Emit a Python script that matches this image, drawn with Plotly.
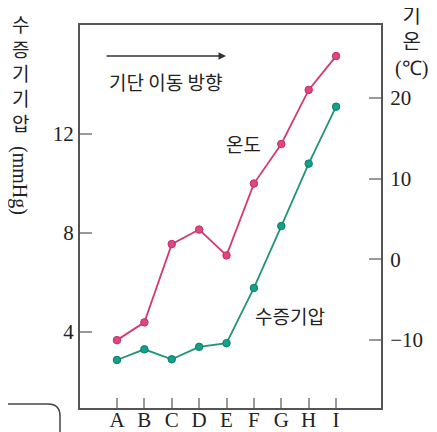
import plotly.graph_objects as go

categories = ["A", "B", "C", "D", "E", "F", "G", "H", "I"]
temperature = [-10.0, -7.8, 1.9, 3.7, 0.5, 9.4, 14.3, 21.0, 25.2]
vapor_pressure = [2.87, 3.3, 2.9, 3.4, 3.55, 5.78, 8.28, 10.8, 13.1]
left_ticks = [4, 8, 12]
right_ticks = [-10, 0, 10, 20]
right_ticktext = ["\u221210", "0", "10", "20"]

xpos = list(range(len(categories)))
PINK = "#d23a74"
PINK_M = "#e2457f"
GREEN = "#1f9479"
GREEN_M = "#14a08a"
AX = "#555555"
SERIF = "Liberation Serif"
KR = "Noto Sans CJK KR"

# page body adds an 8px offset; plot box in screen pixels
OFF = 8
PL, PR, PT, PB = 80, 381, 25, 408
W, H = 437 - OFF, 432 - OFF

def px(x):
    return (x - PL) / (PR - PL)

def py(y):
    return (PB - y) / (PB - PT)

fig = go.Figure()
fig.add_trace(go.Scatter(x=xpos, y=vapor_pressure, mode="lines+markers",
                         line=dict(color=GREEN, width=1.8),
                         marker=dict(color=GREEN_M, size=7.5, line=dict(color="#0e7d68", width=1)),
                         yaxis="y", showlegend=False))
fig.add_trace(go.Scatter(x=xpos, y=temperature, mode="lines+markers",
                         line=dict(color=PINK, width=1.8),
                         marker=dict(color=PINK_M, size=7.5, line=dict(color="#c0306a", width=1)),
                         yaxis="y2", showlegend=False))

fig.update_layout(
    width=W, height=H,
    margin=dict(l=PL - OFF, r=W - (PR - OFF), t=PT - OFF, b=H - (PB - OFF), autoexpand=False),
    paper_bgcolor="white", plot_bgcolor="white",
    xaxis=dict(range=[-1.35, 9.64], tickvals=xpos, ticktext=categories,
               showgrid=False, zeroline=False, showline=True, linecolor=AX, linewidth=2,
               mirror=True, ticks="inside", ticklen=10, tickcolor="#999", tickwidth=1.5,
               ticklabelstandoff=-8,
               tickfont=dict(family=SERIF, size=21, color="#222"), automargin=False),
    yaxis=dict(range=[0.93, 16.40], tickvals=left_ticks, showgrid=False, zeroline=False,
               showline=True, linecolor=AX, linewidth=2, ticks="inside", ticklen=12,
               tickcolor="#999", tickwidth=1.5, automargin=False,
               tickfont=dict(family=SERIF, size=21, color="#222")),
    yaxis2=dict(range=[-18.41, 29.05], overlaying="y", side="right", tickvals=right_ticks,
                ticktext=right_ticktext, showgrid=False, zeroline=False, showline=True,
                linecolor=AX, linewidth=2, ticks="inside", ticklen=12, tickcolor="#999",
                tickwidth=1.5, automargin=False, ticklabelstandoff=3,
                tickfont=dict(family=SERIF, size=21, color="#222")),
)

ann = []
# left axis title, stacked
ann.append(dict(text="수<br>증<br>기<br>기<br>압", x=px(20), y=py(72.5), showarrow=False,
                font=dict(family=KR, size=19, color="#222"), xanchor="center", yanchor="middle"))
ann.append(dict(text="(mmHg)", x=px(20), y=py(180), textangle=90, showarrow=False,
                font=dict(family=SERIF, size=20, color="#222"), xanchor="center", yanchor="middle"))
# right axis title
ann.append(dict(text="기<br>온<br><span style='font-family:Liberation Serif'>(℃)</span>",
                x=px(411), y=py(40), showarrow=False,
                font=dict(family=KR, size=20, color="#222"), xanchor="center", yanchor="middle"))
# in-plot labels
ann.append(dict(text="기단 이동 방향", x=px(165), y=py(82), showarrow=False,
                font=dict(family=KR, size=19, color="#222"), xanchor="center", yanchor="middle"))
ann.append(dict(text="온도", x=px(243), y=py(143), showarrow=False,
                font=dict(family=KR, size=19, color="#222"), xanchor="center", yanchor="middle"))
ann.append(dict(text="수증기압", x=px(290), y=py(315), showarrow=False,
                font=dict(family=KR, size=19, color="#222"), xanchor="center", yanchor="middle"))
# arrow
ann.append(dict(text="", x=px(226), y=py(56), ax=-121, ay=0, axref="pixel", ayref="pixel",
                showarrow=True, arrowhead=2, arrowsize=1, arrowwidth=1.5, arrowcolor="#333"))
for a in ann:
    a["xref"] = "paper"
    a["yref"] = "paper"
fig.update_layout(annotations=ann)

# corner box artifact at bottom-left
fig.add_shape(type="path", xref="paper", yref="paper",
              path="M {x0},{y0} L {x1},{y0} Q {x2},{y0} {x2},{y1} L {x2},{y2}".format(
                  x0=px(0), y0=py(404), x1=px(48), x2=px(60), y1=py(416), y2=py(440)),
              line=dict(color="#444", width=1.5))

fig.write_html("out.html")
